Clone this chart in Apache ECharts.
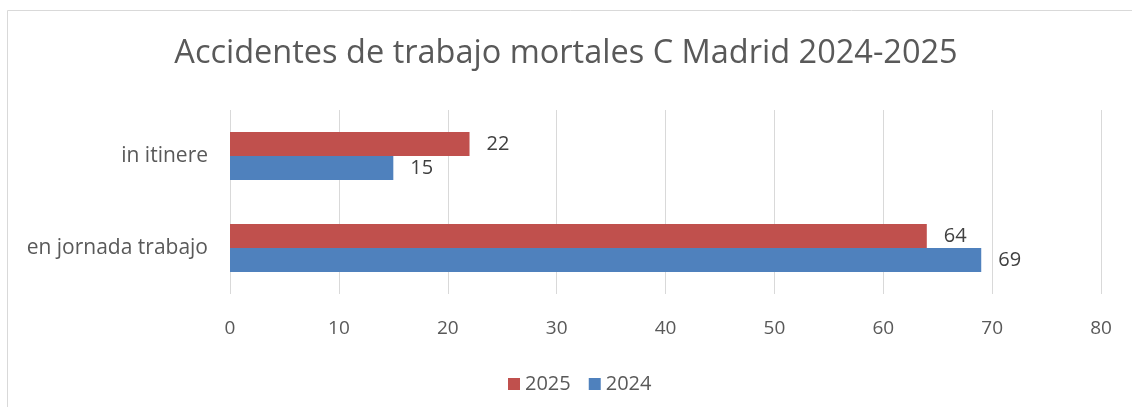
<!DOCTYPE html>
<html>
<head>
<meta charset="utf-8">
<script src="https://cdn.jsdelivr.net/npm/echarts@6/dist/echarts.min.js"></script>
<style>
  html, body { margin: 0; padding: 0; background: #fff; }
  #chart { width: 1132px; height: 407px; }
</style>
</head>
<body>
<div id="chart"></div>
<script>
const chart = echarts.init(document.getElementById('chart'));

// datos
const categories = ['en jornada trabajo', 'in itinere'];
const values2025 = [64, 22];
const values2024 = [69, 15];
const xTicks = [0, 80, 10]; // min, max, intervalo

const font = '"Open Sans", "Noto Sans", sans-serif';
const grey = '#595959';

const valueLabel = { show: true, position: 'right', distance: 17, color: '#404040', fontSize: 20, fontFamily: font };

chart.setOption({
    animation: false,
    textStyle: { fontFamily: font },
    graphic: [{
        type: 'rect',
        shape: { x: 7.5, y: 10.5, width: 1140, height: 420 },
        style: { fill: 'none', stroke: '#d9d9d9', lineWidth: 1 },
        silent: true
    }],
    title: {
        text: 'Accidentes de trabajo mortales C Madrid 2024-2025',
        left: 'center',
        top: 32,
        textStyle: { fontFamily: font, fontSize: 32.5, fontWeight: 'normal', color: grey }
    },
    legend: {
        data: ['2025', '2024'],
        left: 503,
        top: 369,
        itemWidth: 12,
        itemHeight: 12,
        itemGap: 18,
        icon: 'rect',
        textStyle: { fontFamily: font, fontSize: 20, color: grey }
    },
    grid: { left: 230, right: 31, top: 110, bottom: 113, containLabel: false },
    xAxis: {
        type: 'value',
        min: xTicks[0],
        max: xTicks[1],
        interval: xTicks[2],
        axisLine: { show: false },
        axisTick: { show: false },
        axisLabel: { color: grey, fontSize: 19, margin: 25, fontFamily: font },
        splitLine: { lineStyle: { color: '#d9d9d9', width: 1 } }
    },
    yAxis: {
        type: 'category',
        data: categories,
        axisLine: { show: false },
        axisTick: { show: false },
        axisLabel: { color: grey, fontSize: 21, margin: 22, fontFamily: font }
    },
    series: [
        {
            name: '2025',
            type: 'bar',
            data: values2025,
            barGap: '0%',
            barCategoryGap: '48%',
            itemStyle: { color: '#c0504d' },
            label: valueLabel
        },
        {
            name: '2024',
            type: 'bar',
            data: values2024,
            barGap: '0%',
            barCategoryGap: '48%',
            itemStyle: { color: '#4f81bd' },
            label: valueLabel
        }
    ]
});
</script>
</body>
</html>
